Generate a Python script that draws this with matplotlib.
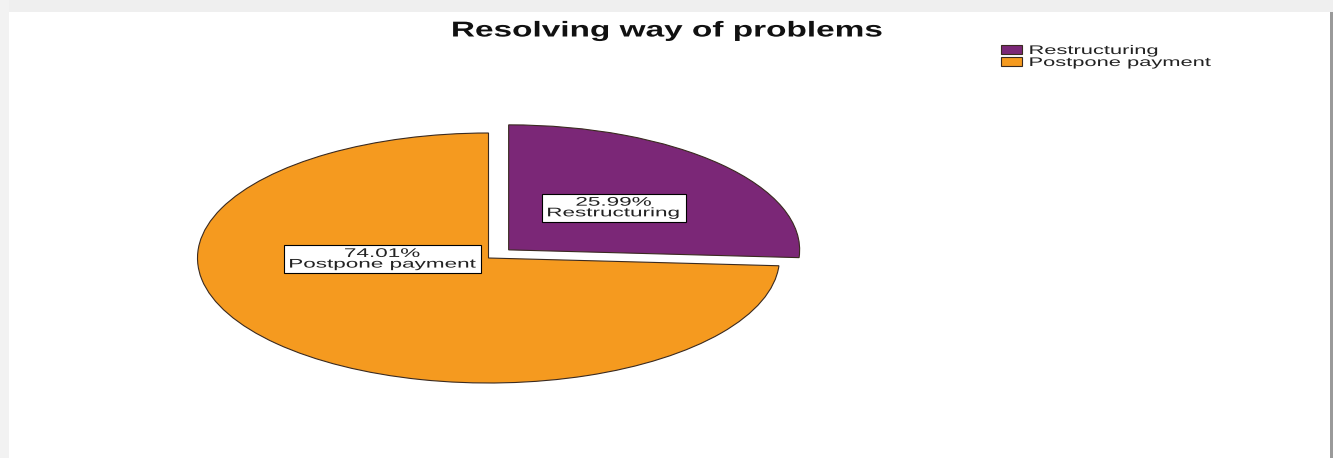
import matplotlib.pyplot as plt
import matplotlib.patches as mpatches
from matplotlib.patheffects import AbstractPathEffect
from matplotlib.transforms import Affine2D

categories = ["Restructuring", "Postpone payment"]
percentages = [25.99, 74.01]
colors = ["#7B2777", "#F59A1F"]


class StretchX(AbstractPathEffect):
    """Widen glyphs horizontally around the owning text's centre or left edge."""

    def __init__(self, sx, artist, pivot="center"):
        super().__init__()
        self.sx = sx
        self.artist = artist
        self.pivot = pivot

    def draw_path(self, renderer, gc, tpath, affine, rgbFace=None):
        bb = self.artist.get_window_extent(renderer)
        x0 = bb.x0 if self.pivot == "left" else 0.5 * (bb.x0 + bb.x1)
        t = affine + Affine2D().translate(-x0, 0).scale(self.sx, 1).translate(x0, 0)
        renderer.draw_path(gc, tpath, t, rgbFace)


W, H = 1333, 458
fig = plt.figure(figsize=(W / 100, H / 100), dpi=100)
fig.patch.set_facecolor("white")

# light frame around the output panel
fig.add_artist(mpatches.Rectangle((0, 1 - 12 / H), 1, 12 / H, transform=fig.transFigure,
                                  facecolor="#efefef", edgecolor="none", zorder=-5))
fig.add_artist(mpatches.Rectangle((0, 0), 9 / W, 1, transform=fig.transFigure,
                                  facecolor="#f2f2f2", edgecolor="none", zorder=-5))
fig.add_artist(mpatches.Rectangle((1 - 3 / W, 0), 3 / W, 1 - 12 / H, transform=fig.transFigure,
                                  facecolor="#9a9a9a", edgecolor="none", zorder=-5))

# pie drawn in a stretched axes so it comes out as an ellipse
rx, ry = 291, 125
cx, cy = 488.5, 258
lim = 1.2
ax = fig.add_axes([(cx - lim * rx) / W, (H - cy - lim * ry) / H, 2 * lim * rx / W, 2 * lim * ry / H])
wedges, _ = ax.pie(percentages, colors=colors, startangle=90, counterclock=False,
                   explode=[0.095, 0], wedgeprops=dict(edgecolor="#3a2a20", linewidth=0.8))
ax.set_aspect("auto")
ax.set_xlim(-lim, lim)
ax.set_ylim(-lim, lim)
ax.axis("off")

box = dict(boxstyle="square,pad=0.2", facecolor="white", edgecolor="black", linewidth=0.8)
label_pos = [(0.43, 0.40), (-0.365, -0.01)]
for name, pct, (x, y) in zip(categories, percentages, label_pos):
    t = ax.text(x, y, f"{pct:.2f}%\n{name}", ha="center", va="center", fontsize=9,
                family="Liberation Sans", linespacing=0.85, color="#222222", bbox=box)
    t.set_path_effects([StretchX(1.8, t)])
    t.get_bbox_patch().set_path_effects([StretchX(1.8, t)])

title = fig.text(667 / W, 1 - 31 / H, "Resolving way of problems", ha="center", va="center",
                 fontsize=15.5, fontweight="bold", family="Liberation Sans", color="#111111")
title.set_path_effects([StretchX(1.55, title)])

leg = fig.legend(wedges, categories, loc="upper left", bbox_to_anchor=(1001 / W, 1 - 45 / H),
                 frameon=False, handlelength=1.65, handleheight=0.75,
                 handletextpad=0.55, labelspacing=0.0, borderpad=0, borderaxespad=0,
                 prop=dict(family="Liberation Sans", size=9))
for t in leg.get_texts():
    t.set_color("#222222")
    t.set_path_effects([StretchX(1.75, t, pivot="left")])

fig.savefig("out.png", dpi=100)
